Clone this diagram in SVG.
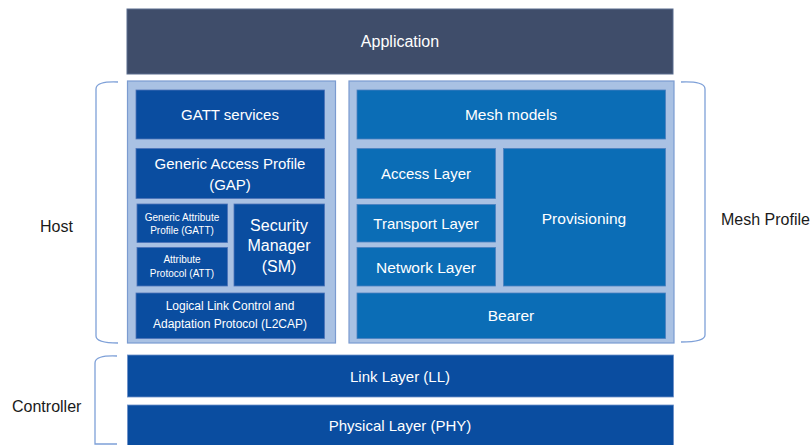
<svg xmlns="http://www.w3.org/2000/svg" width="812" height="445" viewBox="0 0 812 445">
<style>
.t{font-family:"Liberation Sans",Arial,sans-serif;fill:#ffffff;text-anchor:middle;dominant-baseline:central}
.s{font-family:"Liberation Sans",Arial,sans-serif;fill:#1a1a1a;font-size:16px;dominant-baseline:central}
.app{fill:#3f4d6a;stroke:#5a6c8e;stroke-width:1}
.panel{fill:#a9c1e3;stroke:#7b9bd0;stroke-width:1.2}
.h{fill:#0a4da0;stroke:#4d73b8;stroke-width:0.8}
.m{fill:#0b6db6;stroke:#4d80c0;stroke-width:0.8}
.c{fill:#0a4da0;stroke:#6b8fc9;stroke-width:0.8}
.br{fill:none;stroke:#7ea0d8;stroke-width:1.3}
</style>
<rect width="812" height="445" fill="#ffffff"/>
<g id="application"><rect class="app" x="127" y="9" width="546" height="65"/><text class="t" x="400" y="41" font-size="16">Application</text></g>
<g id="host-panel"><rect class="panel" x="127.5" y="81" width="208" height="262"/></g>
<g id="mesh-panel"><rect class="panel" x="349" y="81" width="325" height="262"/></g>
<g id="gatt-services"><rect class="h" x="136" y="90" width="188.5" height="49"/><text class="t" x="230" y="114.5" font-size="15">GATT services</text></g>
<g id="gap"><rect class="h" x="136" y="148.5" width="188.5" height="50"/><text class="t" x="230" y="163.5" font-size="15">Generic Access Profile</text><text class="t" x="230" y="184" font-size="15">(GAP)</text></g>
<g id="gatt"><rect class="h" x="137" y="204" width="90.5" height="38.5"/><text class="t" x="182" y="217.5" font-size="10">Generic Attribute</text><text class="t" x="182" y="230" font-size="10">Profile (GATT)</text></g>
<g id="att"><rect class="h" x="137" y="247.5" width="90.5" height="38.5"/><text class="t" x="182" y="259.5" font-size="10">Attribute</text><text class="t" x="182" y="273.5" font-size="10">Protocol  (ATT)</text></g>
<g id="sm"><rect class="h" x="234" y="204" width="90.5" height="82"/><text class="t" x="279" y="225" font-size="16">Security</text><text class="t" x="279" y="245.5" font-size="16">Manager</text><text class="t" x="279" y="266.5" font-size="16">(SM)</text></g>
<g id="l2cap"><rect class="h" x="136" y="293" width="188.5" height="45.5"/><text class="t" x="230" y="306" font-size="12">Logical Link Control and</text><text class="t" x="230" y="323.5" font-size="12">Adaptation Protocol (L2CAP)</text></g>
<g id="mesh-models"><rect class="m" x="357" y="90" width="308.5" height="49"/><text class="t" x="511" y="114.5" font-size="15.5">Mesh models</text></g>
<g id="access-layer"><rect class="m" x="357" y="148.5" width="138.5" height="50"/><text class="t" x="426" y="173.5" font-size="15">Access Layer</text></g>
<g id="transport-layer"><rect class="m" x="357" y="204.5" width="138.5" height="37.5"/><text class="t" x="426" y="223" font-size="15">Transport Layer</text></g>
<g id="network-layer"><rect class="m" x="357" y="247.5" width="138.5" height="38.5"/><text class="t" x="426" y="267" font-size="15.5">Network Layer</text></g>
<g id="provisioning"><rect class="m" x="503.5" y="148.5" width="162" height="137.5"/><text class="t" x="584" y="218.5" font-size="15.5">Provisioning</text></g>
<g id="bearer"><rect class="m" x="357" y="293" width="308.5" height="45.5"/><text class="t" x="511" y="315" font-size="15.5">Bearer</text></g>
<g id="link-layer"><rect class="c" x="127.5" y="355" width="546" height="42"/><text class="t" x="400" y="376.5" font-size="15">Link Layer (LL)</text></g>
<g id="physical-layer"><rect class="c" x="127.5" y="405" width="546" height="42"/><text class="t" x="400" y="425.5" font-size="15">Physical Layer (PHY)</text></g>
<g id="connectors">
<path class="br" d="M118,82 Q96,81 96,89 V336 Q96,343 118,343"/>
<path class="br" d="M681,82 Q705,81 705,89 V335 Q705,342 681,342"/>
<path class="br" d="M117,356 Q95,355 95,363 V444 L117,444"/>
</g>
<g id="labels">
<text class="s" x="40" y="226">Host</text>
<text class="s" x="721" y="219">Mesh Profile</text>
<text class="s" x="12" y="406">Controller</text>
</g>
</svg>
